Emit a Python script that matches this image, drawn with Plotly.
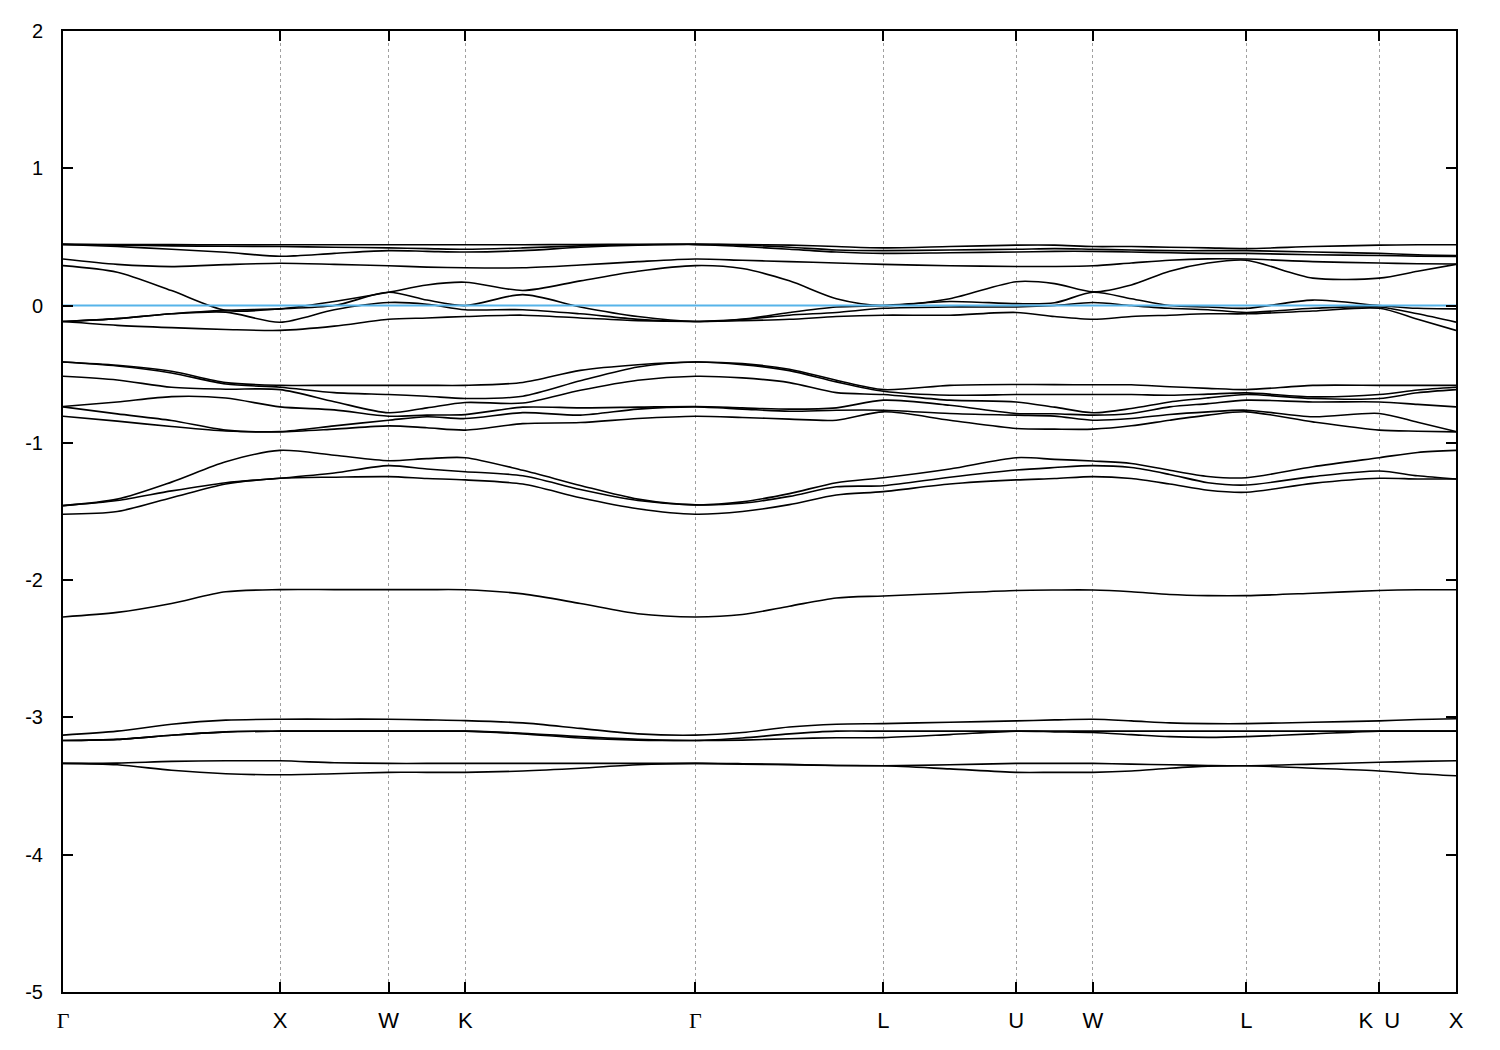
import numpy as np
import plotly.graph_objects as go

# ---------------- data ----------------
HS_LABELS = ["Γ", "X", "W", "K", "Γ", "L", "U", "W", "L", "K\u2002U", "X"]
SEG_LEN = [1.0, 0.5, 0.35355, 1.06066, 0.86603, 0.61237, 0.35355, 0.70711, 0.61237, 0.35355]
SEG_FRACS = [[0, .25, .5, .75], [0, .5], [0, .5], [0, .25, .5, .75], [0, .25, .5, .75],
             [0, .5], [0, .5], [0, .25, .5, .75], [0, .5], [0, .5]]

# k index: Γ .. .. .. X . W . K .. .. .. Γ .. .. .. L . U . W .. .. .. L . K . X
BAND_D = [-3.335, -3.345, -3.385, -3.41, -3.418, -3.41, -3.40, -3.40, -3.40, -3.39, -3.37, -3.345, -3.335,
          -3.337, -3.342, -3.35, -3.352, -3.375, -3.40, -3.40, -3.40, -3.39, -3.37, -3.355, -3.352,
          -3.37, -3.39, -3.41, -3.425]
BAND_E = [-3.335, -3.333, -3.32, -3.316, -3.316, -3.33, -3.335, -3.335, -3.335, -3.335, -3.335, -3.335, -3.335,
          -3.34, -3.345, -3.35, -3.352, -3.345, -3.335, -3.335, -3.335, -3.34, -3.345, -3.35, -3.352,
          -3.34, -3.327, -3.32, -3.316]
BAND_A2 = [-3.129, -3.10, -3.05, -3.02, -3.013, -3.013, -3.013, -3.018, -3.023, -3.04, -3.08, -3.12, -3.129,
           -3.11, -3.07, -3.05, -3.045, -3.035, -3.025, -3.018, -3.013, -3.025, -3.04, -3.045, -3.045,
           -3.035, -3.025, -3.015, -3.01]
BAND_B = [-3.168, -3.16, -3.13, -3.105, -3.10, -3.10, -3.10, -3.10, -3.10, -3.115, -3.14, -3.16, -3.168,
          -3.15, -3.12, -3.10, -3.10, -3.10, -3.10, -3.10, -3.10, -3.10, -3.10, -3.10, -3.10,
          -3.10, -3.10, -3.10, -3.10]
BAND_C = [-3.168, -3.16, -3.13, -3.105, -3.10, -3.10, -3.10, -3.10, -3.10, -3.12, -3.15, -3.165, -3.168,
          -3.165, -3.155, -3.148, -3.147, -3.125, -3.10, -3.105, -3.11, -3.125, -3.14, -3.145, -3.14,
          -3.12, -3.10, -3.10, -3.10]
BAND_S = [-2.268, -2.235, -2.17, -2.085, -2.069, -2.069, -2.069, -2.069, -2.07, -2.10, -2.17, -2.245, -2.268,
          -2.25, -2.19, -2.13, -2.115, -2.095, -2.075, -2.072, -2.072, -2.085, -2.105, -2.113, -2.113,
          -2.095, -2.075, -2.07, -2.07]
BAND_F = [-1.457, -1.41, -1.286, -1.138, -1.055, -1.09, -1.13, -1.115, -1.108, -1.20, -1.31, -1.41, -1.452,
          -1.43, -1.37, -1.29, -1.254, -1.19, -1.108, -1.12, -1.132, -1.15, -1.20, -1.245, -1.254,
          -1.174, -1.108, -1.07, -1.055]
BAND_G = [-1.457, -1.42, -1.35, -1.29, -1.258, -1.22, -1.166, -1.19, -1.21, -1.24, -1.34, -1.42, -1.452,
          -1.44, -1.39, -1.32, -1.312, -1.25, -1.198, -1.18, -1.166, -1.18, -1.23, -1.29, -1.307,
          -1.246, -1.205, -1.24, -1.263]
BAND_H = [-1.52, -1.50, -1.40, -1.30, -1.258, -1.25, -1.246, -1.26, -1.27, -1.30, -1.40, -1.48, -1.52,
          -1.50, -1.45, -1.38, -1.355, -1.30, -1.27, -1.26, -1.246, -1.26, -1.30, -1.345, -1.36,
          -1.295, -1.258, -1.263, -1.263]
MID_1 = [-0.411, -0.435, -0.479, -0.561, -0.581, -0.581, -0.581, -0.581, -0.581, -0.56, -0.472, -0.431, -0.411,
         -0.423, -0.464, -0.544, -0.612, -0.581, -0.575, -0.576, -0.577, -0.577, -0.591, -0.603, -0.612,
         -0.581, -0.581, -0.581, -0.581]
MID_2 = [-0.411, -0.44, -0.491, -0.571, -0.595, -0.634, -0.648, -0.66, -0.677, -0.66, -0.548, -0.447, -0.411,
         -0.43, -0.474, -0.556, -0.624, -0.653, -0.648, -0.648, -0.648, -0.648, -0.653, -0.645, -0.636,
         -0.665, -0.648, -0.615, -0.595]
MID_3 = [-0.515, -0.542, -0.595, -0.609, -0.612, -0.70, -0.781, -0.745, -0.706, -0.71, -0.617, -0.544, -0.515,
         -0.527, -0.561, -0.634, -0.648, -0.689, -0.702, -0.74, -0.781, -0.75, -0.702, -0.672, -0.648,
         -0.677, -0.677, -0.635, -0.612]
MID_4 = [-0.735, -0.702, -0.663, -0.673, -0.738, -0.76, -0.806, -0.798, -0.794, -0.74, -0.745, -0.740, -0.735,
         -0.745, -0.754, -0.745, -0.689, -0.726, -0.786, -0.788, -0.798, -0.786, -0.738, -0.714, -0.689,
         -0.702, -0.702, -0.72, -0.738]
MID_5 = [-0.738, -0.789, -0.837, -0.907, -0.917, -0.876, -0.835, -0.81, -0.823, -0.78, -0.798, -0.754, -0.738,
         -0.754, -0.77, -0.762, -0.762, -0.786, -0.798, -0.805, -0.835, -0.823, -0.793, -0.774, -0.762,
         -0.81, -0.786, -0.85, -0.917]
MID_6 = [-0.806, -0.842, -0.881, -0.914, -0.92, -0.90, -0.876, -0.89, -0.907, -0.86, -0.852, -0.823, -0.806,
         -0.815, -0.827, -0.835, -0.774, -0.835, -0.895, -0.90, -0.90, -0.876, -0.835, -0.798, -0.774,
         -0.847, -0.907, -0.915, -0.92]
TOP_1 = [0.446, 0.445, 0.444, 0.443, 0.443, 0.443, 0.443, 0.443, 0.443, 0.443, 0.445, 0.446, 0.446,
         0.445, 0.44, 0.43, 0.42, 0.43, 0.44, 0.44, 0.43, 0.43, 0.425, 0.42, 0.415, 0.43, 0.44, 0.443, 0.443]
TOP_2 = [0.446, 0.44, 0.435, 0.432, 0.43, 0.425, 0.42, 0.415, 0.41, 0.42, 0.435, 0.443, 0.446,
         0.44, 0.425, 0.405, 0.40, 0.405, 0.41, 0.415, 0.41, 0.405, 0.40, 0.40, 0.40, 0.39, 0.38, 0.37, 0.365]
TOP_3 = [0.446, 0.43, 0.41, 0.388, 0.359, 0.38, 0.40, 0.395, 0.39, 0.40, 0.425, 0.44, 0.446,
         0.43, 0.41, 0.39, 0.38, 0.385, 0.39, 0.395, 0.395, 0.39, 0.385, 0.38, 0.38, 0.37, 0.365, 0.36, 0.358]
TOP_4 = [0.339, 0.30, 0.284, 0.298, 0.308, 0.30, 0.29, 0.28, 0.275, 0.275, 0.295, 0.32, 0.339,
         0.33, 0.32, 0.31, 0.30, 0.29, 0.285, 0.285, 0.29, 0.31, 0.33, 0.34, 0.339, 0.32, 0.31, 0.305, 0.303]
TOP_5 = [0.291, 0.243, 0.109, -0.035, -0.024, 0.03, 0.097, 0.15, 0.17, 0.11, 0.18, 0.25, 0.291,
         0.27, 0.18, 0.05, 0.0, 0.05, 0.174, 0.16, 0.10, 0.15, 0.25, 0.31, 0.33, 0.20, 0.20, 0.25, 0.30]
TOP_6 = [-0.116, -0.095, -0.06, -0.035, -0.024, 0.0, 0.097, 0.04, 0.0, 0.08, -0.01, -0.08, -0.116,
         -0.1, -0.05, -0.01, 0.0, 0.03, 0.014, 0.02, 0.097, 0.05, 0.0, -0.01, -0.02, 0.04, 0.0, -0.02, -0.024]
TOP_7 = [-0.116, -0.095, -0.06, -0.048, -0.121, -0.03, 0.022, 0.01, -0.03, -0.03, -0.06, -0.10, -0.116,
         -0.1, -0.07, -0.05, -0.02, -0.01, -0.01, 0.0, 0.022, 0.0, -0.02, -0.03, -0.05, -0.02, -0.01, -0.06, -0.121]
TOP_8 = [-0.116, -0.144, -0.161, -0.174, -0.181, -0.15, -0.10, -0.09, -0.08, -0.07, -0.09, -0.11, -0.116,
         -0.11, -0.10, -0.08, -0.07, -0.07, -0.05, -0.08, -0.10, -0.08, -0.07, -0.06, -0.06, -0.04, -0.02, -0.10, -0.181]

BANDS = [BAND_D, BAND_E, BAND_A2, BAND_B, BAND_C, BAND_S, BAND_F, BAND_G, BAND_H,
         MID_1, MID_2, MID_3, MID_4, MID_5, MID_6,
         TOP_1, TOP_2, TOP_3, TOP_4, TOP_5, TOP_6, TOP_7, TOP_8]

Y_TICKS = [2, 1, 0, -1, -2, -3, -4, -5]
FERMI = 0.0

# ---------------- build k path ----------------
hs_pos = np.concatenate([[0.0], np.cumsum(SEG_LEN)])
k_grid = []
for start, length, fracs in zip(hs_pos[:-1], SEG_LEN, SEG_FRACS):
    for f in fracs:
        k_grid.append(start + f * length)
k_grid.append(hs_pos[-1])
k_grid = np.array(k_grid)

fig = go.Figure()
for band in BANDS:
    fig.add_trace(go.Scatter(x=k_grid, y=band, mode="lines",
                             line=dict(color="black", width=1.6, shape="spline", smoothing=0.8),
                             hoverinfo="skip", showlegend=False))

fig.add_trace(go.Scatter(x=[hs_pos[0], hs_pos[-1]], y=[FERMI, FERMI], mode="lines",
                         line=dict(color="#56b4e9", width=2), hoverinfo="skip", showlegend=False))

tick_text = []
for lab in HS_LABELS:
    if lab == "Γ":
        tick_text.append('<span style="font-family:Liberation Serif, DejaVu Serif, serif">Γ</span>')
    else:
        tick_text.append(lab)

fig.update_layout(
    width=1500, height=1050,
    margin=dict(l=55, r=52, t=20, b=66),
    paper_bgcolor="white", plot_bgcolor="white",
    font=dict(family="Liberation Sans, Arial, sans-serif", color="black", size=20),
)
fig.update_xaxes(
    range=[hs_pos[0], hs_pos[-1]], tickvals=hs_pos, ticktext=tick_text,
    showgrid=True, gridcolor="#a0a0a0", griddash="dot", gridwidth=1,
    showline=True, linecolor="black", linewidth=2, mirror="ticks",
    ticks="inside", ticklen=10, tickwidth=1.5, tickcolor="black",
    tickfont=dict(size=22), ticklabelstandoff=8, zeroline=False,
)
fig.update_yaxes(
    range=[-5, 2], tickvals=Y_TICKS, ticktext=[str(v) for v in Y_TICKS],
    showgrid=False, showline=True, linecolor="black", linewidth=2, mirror="ticks",
    ticks="inside", ticklen=10, tickwidth=1.5, tickcolor="black",
    tickfont=dict(size=20), ticklabelstandoff=14, zeroline=False,
)

fig.write_html("out.html")
